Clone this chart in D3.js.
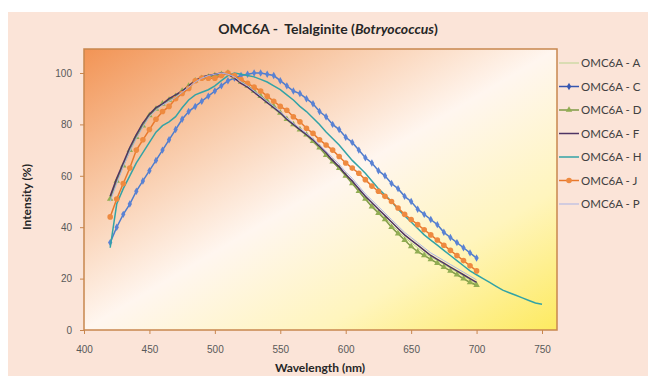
<!DOCTYPE html>
<html>
<head>
<meta charset="utf-8">
<style>
  body { margin: 0; background: #fff; }
  svg { display: block; font-family: Lato, 'Open Sans', sans-serif; }
  .axis .domain { display: none; }
  .axis .tick line { stroke: #c8864e; }
  .axis .tick text { font-size: 10px; fill: #595959; }
  .legend text { font-size: 11.5px; fill: #404040; }
</style>
</head>
<body>
<svg width="648" height="376"></svg>
<script src="https://cdn.jsdelivr.net/npm/d3@7"></script>
<script>
const waves = [420,425,430,435,440,445,450,455,460,465,470,475,480,485,490,495,500,505,510,515,
  520,525,530,535,540,545,550,555,560,565,570,575,580,585,590,595,600,605,610,615,
  620,625,630,635,640,645,650,655,660,665,670,675,680,685,690,695,700];
const wavesLong = waves.concat([705,710,715,720,725,730,735,740,745,750]);

const valA = [51.5,58.5,64.5,70.5,75.5,80,84,86,88,89.5, 91,93,95,97,98.5,99,99.5,100,99.5,98,
  96,94.5,92.5,90.5,88.5,86,84,81.5,79.5,77.5, 75.5,73,70.5,68,65.5,62.5,60,57,54,51,
  48.5,46,43.5,41,38.5,36,34,32,30,28.5, 27,25.5,24,22.5,21,19.5,18];
const valC = [34,40,45,49,54,58,62,66,70,74, 78,82,85,87,89,91,93,95,97,98,
  99,99.5,100,100,99.5,99,97,95,93,92, 90,88,85,83,80,78,75,73,70,67,
  65,62,60,57,55,52,50,47,45,43, 41,38,36,34,32,30,28];
const valD = [51,58,64,70,75,79.5,83.5,86,88,89.5, 91,93,95,97,98,98.5,99,99.5,100,98.5,
  96.5,95,93,91,89,87,84.5,82,80,78, 76,73.5,71,68,65.5,63,60,57,54,51,
  48,45.5,43,40,37.5,35,32.5,30.5,29,27.5, 26,24.5,23,21.5,20,18.5,17.5];
const valF = [52,59,65,71,76,80.5,84,86.5,88,90, 91.5,93,95,97,98.5,99,99.5,100,99.5,98,
  96,94.5,92.5,90.5,88.5,86.5,84.5,82,80,78, 76,74,71.5,69,66,63.5,60.5,58,55,52,
  49.5,47,44.5,42,39.5,37,35,33,31,29, 27.5,26,24.5,23,21.5,20,18.5];
const valH = [32,49,55,60,65,69,73,77,79.5,81, 83,86.5,89.5,91.5,92.5,93.5,95,97,99,100,
  99.5,99,98.5,97.5,96.5,95,93.5,91.5,89.5,87, 85,82.5,80,77,74.5,72,69,66,63.5,61,
  58,55,52.5,50,47,44.5,42,39.5,37,35, 33,31,29,27,25,23,21.5,20,18.5,17,
  15.5,14.5,13.5,12.5,11.5,10.5,10];
const valJ = [44,51,57,63,70,74,78,82,85,87, 90,92,94,97,98,98,98,99,100,99,
  97.5,96,94.5,93,91,89,87,85.5,83,81, 78.5,76.5,74,72,70,67.5,65,63,61,58.5,
  56,54,52,50,47.5,45,43,41,39,37, 35,33,31,29,27,25,23];
const valP = [50,57,63.5,69.5,74.5,79,83,85.5,87.5,89, 90.5,92.5,94.5,96.5,98,99,99.5,100,99.5,98.5,
  96.5,95,93,91,89,87,85,82.5,80.5,78.5, 76.5,74.5,72,69.5,67,64.5,61.5,59,56,53,
  50.5,48,45.5,43,40.5,38,36,34,32,30, 28.5,27,25.5,24,22.5,21,19.5];

const xTicks = [400,450,500,550,600,650,700,750];
const yTicks = [0,20,40,60,80,100];

const series = [
  { name: "OMC6A - A", x: waves, y: valA, color: "#b9d48e", width: 1, marker: null },
  { name: "OMC6A - C", x: waves, y: valC, color: "#4f7ccc", width: 1.5, marker: "diamond", mcolor: "#5a82d4", lcolor: "#3556b0" },
  { name: "OMC6A - D", x: waves, y: valD, color: "#7f9a46", width: 1.5, marker: "triangle", mcolor: "#91ad52" },
  { name: "OMC6A - F", x: waves, y: valF, color: "#4e3464", width: 1.5, marker: null },
  { name: "OMC6A - H", x: wavesLong, y: valH, color: "#33a3a6", width: 1.5, marker: null },
  { name: "OMC6A - J", x: waves, y: valJ, color: "#e8782c", width: 1.5, marker: "circle", mcolor: "#ee8a40" },
  { name: "OMC6A - P", x: waves, y: valP, color: "#a9b3e6", width: 1, marker: null }
];

const svg = d3.select("svg");
const defs = svg.append("defs");

const bg = defs.append("linearGradient").attr("id", "plotbg")
  .attr("x1", 0).attr("y1", 0).attr("x2", 1).attr("y2", 1);
bg.append("stop").attr("offset", "0%").attr("stop-color", "#f29455");
bg.append("stop").attr("offset", "25%").attr("stop-color", "#f8c6a2");
bg.append("stop").attr("offset", "50%").attr("stop-color", "#fff6ef");
bg.append("stop").attr("offset", "75%").attr("stop-color", "#fff5bd");
bg.append("stop").attr("offset", "100%").attr("stop-color", "#fdea60");

// outer panel
svg.append("rect").attr("x", 8).attr("y", 12).attr("width", 640).attr("height", 364)
  .attr("fill", "#fbe4d8");

const x = d3.scaleLinear().domain([400, 750]).range([84, 542]);
const y = d3.scaleLinear().domain([0, 100]).range([330, 73]);

// plot area
svg.append("rect").attr("x", 84).attr("y", 49).attr("width", 473).attr("height", 281)
  .attr("fill", "url(#plotbg)").attr("stroke", "#c8864e").attr("stroke-width", 1.5);

svg.append("g").attr("class", "axis")
  .attr("transform", "translate(0,330)")
  .call(d3.axisBottom(x).tickValues(xTicks).tickSize(4).tickPadding(12));

svg.append("g").attr("class", "axis")
  .attr("transform", "translate(84,0)")
  .call(d3.axisLeft(y).tickValues(yTicks).tickSize(4).tickPadding(8));

const line = d3.line().x(d => x(d[0])).y(d => y(d[1]));

const tri = d3.symbol().type(d3.symbolTriangle).size(18);
const dia = d3.symbol().type(d3.symbolDiamond).size(16);

series.forEach(s => {
  const pts = s.x.map((w, i) => [w, s.y[i]]);
  const g = svg.append("g");
  g.append("path").attr("d", line(pts)).attr("fill", "none")
    .attr("stroke", s.color).attr("stroke-width", s.width);
  if (s.marker === "circle") {
    g.selectAll("circle").data(pts).join("circle")
      .attr("cx", d => x(d[0])).attr("cy", d => y(d[1])).attr("r", 2.8)
      .attr("fill", s.mcolor);
  } else if (s.marker) {
    g.selectAll("path.m").data(pts).join("path").attr("class", "m")
      .attr("d", s.marker === "triangle" ? tri : dia)
      .attr("transform", d => `translate(${x(d[0])},${y(d[1])})`)
      .attr("fill", s.mcolor);
  }
});

// legend
const leg = svg.append("g").attr("class", "legend");
series.forEach((s, i) => {
  const ly = 63 + i * 23.5;
  leg.append("line").attr("x1", 559).attr("x2", 579).attr("y1", ly).attr("y2", ly)
    .attr("stroke", s.lcolor || s.color).attr("stroke-width", s.width);
  if (s.marker === "circle") {
    leg.append("circle").attr("cx", 569).attr("cy", ly).attr("r", 2.8).attr("fill", s.mcolor);
  } else if (s.marker) {
    leg.append("path").attr("d", s.marker === "triangle" ? tri : dia)
      .attr("transform", `translate(569,${ly})`).attr("fill", s.lcolor || s.mcolor);
  }
  leg.append("text").attr("x", 581).attr("y", ly + 4).text(s.name);
});

// title and axis labels
const title = svg.append("text").attr("x", 328).attr("y", 34).attr("text-anchor", "middle")
  .style("font-size", "14px").style("font-weight", "bold").attr("fill", "#262626");
title.append("tspan").text("OMC6A -\u00a0 Telalginite (");
title.append("tspan").style("font-style", "italic").text("Botryococcus");
title.append("tspan").text(")");

svg.append("text").attr("x", 320).attr("y", 372).attr("text-anchor", "middle")
  .style("font-size", "12px").style("font-weight", "bold").attr("fill", "#262626")
  .text("Wavelength (nm)");

svg.append("text").attr("transform", "translate(31,197) rotate(-90)").attr("text-anchor", "middle")
  .style("font-size", "12px").style("font-weight", "bold").attr("fill", "#262626")
  .text("Intensity (%)");
</script>
</body>
</html>
